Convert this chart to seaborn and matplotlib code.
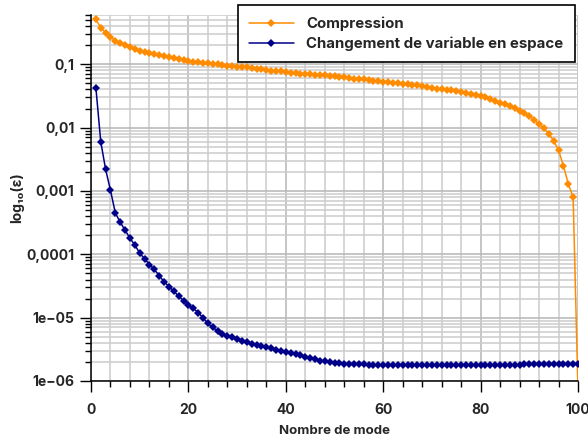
import numpy as np
import pandas as pd
import matplotlib
matplotlib.use("Agg")
import matplotlib.pyplot as plt
from matplotlib.ticker import MultipleLocator, LogLocator, NullFormatter
import seaborn as sns

modes = list(range(1, 101))

compression = [
    0.51, 0.378, 0.315, 0.272, 0.236, 0.214, 0.199, 0.185, 0.174, 0.164,
    0.156, 0.149, 0.144, 0.139, 0.134, 0.129, 0.124, 0.120, 0.117, 0.114,
    0.110, 0.107, 0.106, 0.104, 0.102, 0.100, 0.0975, 0.095, 0.093, 0.092,
    0.091, 0.090, 0.088, 0.085, 0.083, 0.081, 0.0795, 0.078, 0.077, 0.0756,
    0.074, 0.072, 0.071, 0.070, 0.069, 0.0686, 0.068, 0.067, 0.066, 0.0654,
    0.064, 0.0623, 0.061, 0.0593, 0.0588, 0.058, 0.0565, 0.055, 0.054, 0.053,
    0.052, 0.0513, 0.0505, 0.0495, 0.0485, 0.0477, 0.047, 0.0455, 0.044, 0.0423,
    0.0413, 0.0403, 0.0396, 0.0389, 0.0378, 0.0366, 0.035, 0.0336, 0.0326, 0.0316,
    0.030, 0.028, 0.0264, 0.0248, 0.0234, 0.022, 0.0202, 0.0185, 0.0169, 0.0153,
    0.0133, 0.0113, 0.0098, 0.0080, 0.0062, 0.0044, 0.0025, 0.0013, 0.0008, 7e-7,
]

changement = [
    0.043, 0.0060, 0.0022, 0.00102, 4.5e-4, 3.2e-4, 2.4e-4, 1.8e-4, 1.4e-4, 1.05e-4,
    8.5e-5, 6.9e-5, 5.8e-5, 4.6e-5, 3.7e-5, 3.1e-5, 2.6e-5, 2.2e-5, 1.85e-5, 1.6e-5,
    1.4e-5, 1.2e-5, 1.0e-5, 8.1e-6, 7.0e-6, 6.2e-6, 5.5e-6, 5.2e-6, 4.9e-6, 4.6e-6,
    4.3e-6, 4.1e-6, 3.9e-6, 3.75e-6, 3.6e-6, 3.4e-6, 3.3e-6, 3.1e-6, 3.0e-6, 2.9e-6,
    2.8e-6, 2.7e-6, 2.55e-6, 2.4e-6, 2.3e-6, 2.2e-6, 2.1e-6, 2.05e-6, 1.97e-6, 1.92e-6,
    1.9e-6, 1.88e-6, 1.86e-6, 1.85e-6, 1.84e-6, 1.83e-6, 1.82e-6, 1.81e-6, 1.8e-6, 1.78e-6,
    1.78e-6, 1.78e-6, 1.78e-6, 1.78e-6, 1.78e-6, 1.78e-6, 1.78e-6, 1.78e-6, 1.78e-6, 1.78e-6,
    1.78e-6, 1.78e-6, 1.78e-6, 1.78e-6, 1.78e-6, 1.78e-6, 1.78e-6, 1.78e-6, 1.78e-6, 1.78e-6,
    1.78e-6, 1.78e-6, 1.78e-6, 1.78e-6, 1.78e-6, 1.78e-6, 1.78e-6, 1.78e-6, 1.87e-6, 1.87e-6,
    1.87e-6, 1.87e-6, 1.87e-6, 1.87e-6, 1.87e-6, 1.87e-6, 1.87e-6, 1.87e-6, 1.87e-6, 1.86e-6,
]

series_names = ["Compression", "Changement de variable en espace"]
series_colors = ["#ff8c00", "#000088"]

ytick_values = [1e-6, 1e-5, 1e-4, 1e-3, 1e-2, 1e-1]
ytick_labels = ["1e\u221206", "1e\u221205", "0,0001", "0,001", "0,01", "0,1"]
xtick_values = [0, 20, 40, 60, 80, 100]

df = pd.DataFrame({
    "mode": modes * 2,
    "err": compression + changement,
    "serie": [series_names[0]] * len(modes) + [series_names[1]] * len(modes),
})

sns.set_style("ticks")
plt.rcParams["font.family"] = ["Inter", "DejaVu Sans"]
plt.rcParams["font.weight"] = "bold"

fig = plt.figure(figsize=(5.88, 4.37), dpi=100)
ax = fig.add_axes([91 / 588, 1 - 381 / 437, 487 / 588, 366 / 437])

sns.lineplot(data=df, x="mode", y="err", hue="serie", hue_order=series_names,
             palette=series_colors, marker="D", markersize=4.5, markeredgewidth=0,
             linewidth=1.1, ax=ax)

ax.set_yscale("log")
ax.set_ylim(1e-6, 0.6)
ax.set_xlim(0, 100)

ax.xaxis.set_minor_locator(MultipleLocator(4))
ax.set_xticks(xtick_values)
ax.set_xticklabels([str(v) for v in xtick_values])
ax.set_yticks(ytick_values)
ax.set_yticklabels(ytick_labels)
ax.yaxis.set_minor_locator(LogLocator(base=10, subs=np.arange(2, 10)))
ax.yaxis.set_minor_formatter(NullFormatter())

ax.grid(True, which="major", color="#bbbbbb", linewidth=1.2)
ax.grid(True, which="minor", color="#cccccc", linewidth=1.1)
ax.set_axisbelow(True)

ax.tick_params(axis="both", which="major", length=8, width=1, color="black",
               labelsize=10)
ax.tick_params(axis="x", which="major", pad=7.5)
ax.tick_params(axis="y", which="major", pad=4)
ax.tick_params(axis="both", which="minor", length=4.5, width=1, color="black")
for lbl in ax.get_xticklabels() + ax.get_yticklabels():
    lbl.set_fontweight("bold")

sns.despine(ax=ax)
for side in ["left", "bottom"]:
    ax.spines[side].set_color("black")
    ax.spines[side].set_linewidth(1.1)

ax.set_xlabel("Nombre de mode", fontsize=9.5, fontweight="bold", labelpad=6)
ax.set_ylabel("log\u2081\u2080(\u03b5)", fontsize=10, fontweight="bold", labelpad=1.5)

leg = ax.legend(loc="upper right", bbox_to_anchor=(575 / 588, 1 - 5 / 437),
                bbox_transform=fig.transFigure, borderaxespad=0, frameon=True,
                fancybox=False, edgecolor="black", framealpha=1, handlelength=3.0,
                handletextpad=0.85, borderpad=0.75, labelspacing=0.38,
                prop={"weight": "bold", "size": 10.8})
leg.get_frame().set_linewidth(1.2)

fig.savefig("out.png", dpi=100)
